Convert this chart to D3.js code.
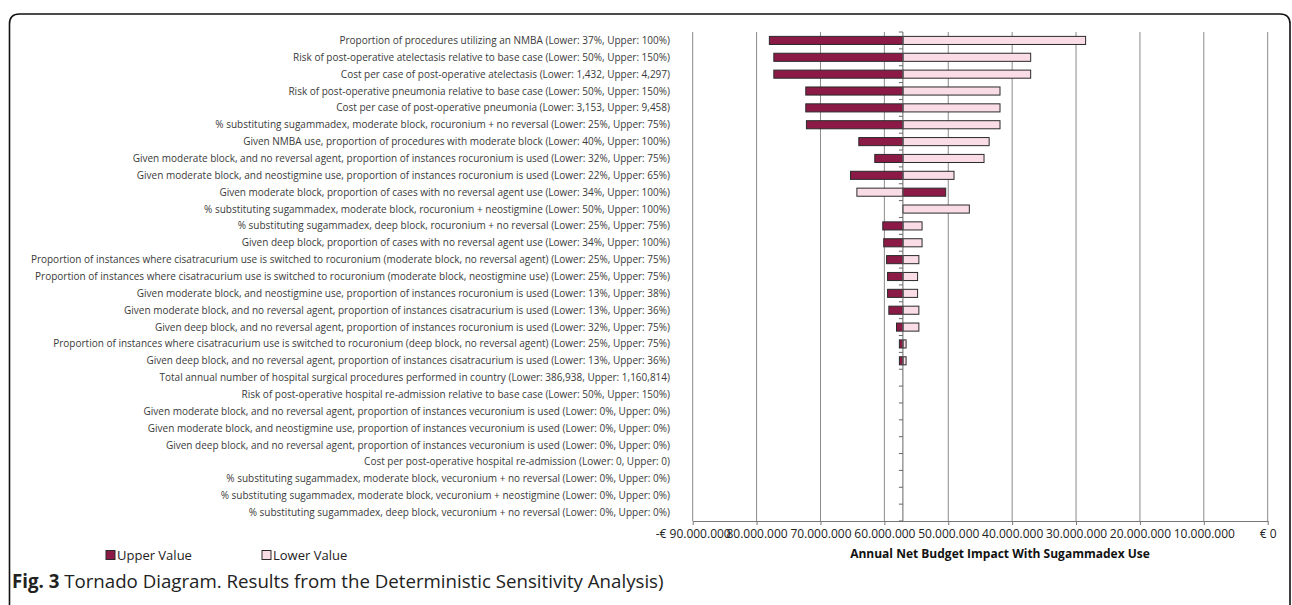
<!DOCTYPE html>
<html>
<head>
<meta charset="utf-8">
<script src="https://cdn.jsdelivr.net/npm/d3@7"></script>
<style>
  body { margin: 0; background: #fff; }
  svg { display: block; }
</style>
</head>
<body>
<div id="chart"></div>
<script>
// parameters, top to bottom
const labels = [
  "Proportion of procedures utilizing an NMBA (Lower: 37%, Upper: 100%)",
  "Risk of post-operative atelectasis relative to base case (Lower: 50%, Upper: 150%)",
  "Cost per case of post-operative atelectasis (Lower: 1,432, Upper: 4,297)",
  "Risk of post-operative pneumonia relative to base case (Lower: 50%, Upper: 150%)",
  "Cost per case of post-operative pneumonia (Lower: 3,153, Upper: 9,458)",
  "% substituting sugammadex, moderate block, rocuronium + no reversal (Lower: 25%, Upper: 75%)",
  "Given NMBA use, proportion of procedures with moderate block (Lower: 40%, Upper: 100%)",
  "Given moderate block, and no reversal agent, proportion of instances rocuronium is used (Lower: 32%, Upper: 75%)",
  "Given moderate block, and neostigmine use, proportion of instances rocuronium is used (Lower: 22%, Upper: 65%)",
  "Given moderate block, proportion of cases with no reversal agent use (Lower: 34%, Upper: 100%)",
  "% substituting sugammadex, moderate block, rocuronium + neostigmine (Lower: 50%, Upper: 100%)",
  "% substituting sugammadex, deep block, rocuronium + no reversal (Lower: 25%, Upper: 75%)",
  "Given deep block, proportion of cases with no reversal agent use (Lower: 34%, Upper: 100%)",
  "Proportion of instances where cisatracurium use is switched to rocuronium (moderate block, no reversal agent) (Lower: 25%, Upper: 75%)",
  "Proportion of instances where cisatracurium use is switched to rocuronium (moderate block, neostigmine use) (Lower: 25%, Upper: 75%)",
  "Given moderate block, and neostigmine use, proportion of instances rocuronium is used (Lower: 13%, Upper: 38%)",
  "Given moderate block, and no reversal agent, proportion of instances cisatracurium is used (Lower: 13%, Upper: 36%)",
  "Given deep block, and no reversal agent, proportion of instances rocuronium is used (Lower: 32%, Upper: 75%)",
  "Proportion of instances where cisatracurium use is switched to rocuronium (deep block, no reversal agent) (Lower: 25%, Upper: 75%)",
  "Given deep block, and no reversal agent, proportion of instances cisatracurium is used (Lower: 13%, Upper: 36%)",
  "Total annual number of hospital surgical procedures performed in country (Lower: 386,938, Upper: 1,160,814)",
  "Risk of post-operative hospital re-admission relative to base case (Lower: 50%, Upper: 150%)",
  "Given moderate block, and no reversal agent, proportion of instances vecuronium is used (Lower: 0%, Upper: 0%)",
  "Given moderate block, and neostigmine use, proportion of instances vecuronium is used (Lower: 0%, Upper: 0%)",
  "Given deep block, and no reversal agent, proportion of instances vecuronium is used (Lower: 0%, Upper: 0%)",
  "Cost per post-operative hospital re-admission (Lower: 0, Upper: 0)",
  "% substituting sugammadex, moderate block, vecuronium + no reversal (Lower: 0%, Upper: 0%)",
  "% substituting sugammadex, moderate block, vecuronium + neostigmine (Lower: 0%, Upper: 0%)",
  "% substituting sugammadex, deep block, vecuronium + no reversal (Lower: 0%, Upper: 0%)"
];

const baseValue = -57100000;

// net budget impact (EUR) at the upper / lower parameter value
const upperValues = [
  -78000000, -77300000, -77300000, -72300000, -72300000, -72200000, -64000000,
  -61500000, -65300000, -50400000, -57100000, -60250000, -60100000, -59650000,
  -59500000, -59500000, -59300000, -58100000, -57650000, -57650000,
  -57100000, -57100000, -57100000, -57100000, -57100000, -57100000, -57100000,
  -57100000, -57100000
];
const lowerValues = [
  -28500000, -37100000, -37100000, -41900000, -41900000, -41900000, -43600000,
  -44400000, -49100000, -64300000, -46700000, -54100000, -54100000, -54600000,
  -54800000, -54800000, -54600000, -54600000, -56600000, -56600000,
  -57100000, -57100000, -57100000, -57100000, -57100000, -57100000, -57100000,
  -57100000, -57100000
];

const tickValues = [-90e6, -80e6, -70e6, -60e6, -50e6, -40e6, -30e6, -20e6, -10e6, 0];
const tickLabels = ["-€ 90.000.000", "80.000.000", "70.000.000", "60.000.000", "50.000.000",
  "40.000.000", "30.000.000", "20.000.000", "10.000.000", "€ 0"];

const width = 1292, height = 605;
const upperColor = "#8c1a46", lowerColor = "#f9dce5";
const plotTop = 32, plotBottom = 521;

const svg = d3.select("#chart").append("svg")
  .attr("width", width)
  .attr("height", height);

// figure frame
svg.append("path")
  .attr("d", "M9.5,605 V24 Q9.5,14 19.5,14 H1280 Q1290,14 1290,24 V605")
  .attr("fill", "none")
  .attr("stroke", "#111")
  .attr("stroke-width", 1.6);

const x = d3.scaleLinear()
  .domain([-90e6, 0])
  .range([692.7, 1267.7]);

const y = d3.scaleBand()
  .domain(d3.range(labels.length))
  .range([plotTop, plotBottom])
  .paddingInner(0.52)
  .paddingOuter(0.26);

const step = y.step();

// vertical gridlines
svg.append("g")
  .selectAll("line")
  .data(tickValues)
  .join("line")
  .attr("x1", d => x(d)).attr("x2", d => x(d))
  .attr("y1", plotTop).attr("y2", plotBottom)
  .attr("stroke", "#8a8a8a")
  .attr("stroke-width", 1);

// bottom axis
const xAxis = d3.axisBottom(x)
  .tickValues(tickValues)
  .tickSize(4)
  .tickSizeOuter(0)
  .tickFormat((d, i) => tickLabels[i]);

const gx = svg.append("g")
  .attr("transform", `translate(0,${plotBottom})`)
  .call(xAxis);
gx.select(".domain").attr("stroke", "#777");
gx.selectAll(".tick line").attr("stroke", "#777");
gx.selectAll(".tick text")
  .attr("dy", "0.85em")
  .attr("fill", "#222")
  .style("font-family", "'Open Sans', sans-serif")
  .style("font-size", "12px");

svg.append("text")
  .attr("x", 1000)
  .attr("y", 558)
  .attr("text-anchor", "middle")
  .attr("fill", "#111")
  .style("font-family", "'Open Sans', sans-serif")
  .style("font-weight", "bold")
  .style("font-size", "12px")
  .text("Annual Net Budget Impact With Sugammadex Use");

// bars
const bars = [];
labels.forEach((l, i) => {
  bars.push({ i, v: lowerValues[i], kind: "lower" });
  bars.push({ i, v: upperValues[i], kind: "upper" });
});

svg.append("g")
  .selectAll("rect")
  .data(bars.filter(b => Math.abs(x(b.v) - x(baseValue)) > 0.5))
  .join("rect")
  .attr("x", d => Math.min(x(d.v), x(baseValue)))
  .attr("width", d => Math.abs(x(d.v) - x(baseValue)))
  .attr("y", d => y(d.i))
  .attr("height", y.bandwidth())
  .attr("fill", d => d.kind === "upper" ? upperColor : lowerColor)
  .attr("stroke", "#2a2a2a")
  .attr("stroke-width", 1);

// category axis at the base case
const baseX = x(baseValue);
svg.append("line")
  .attr("x1", baseX).attr("x2", baseX)
  .attr("y1", plotTop).attr("y2", plotBottom)
  .attr("stroke", "#666");
svg.append("g")
  .selectAll("line")
  .data(d3.range(labels.length + 1))
  .join("line")
  .attr("x1", baseX - 4).attr("x2", baseX)
  .attr("y1", d => plotTop + d * step).attr("y2", d => plotTop + d * step)
  .attr("stroke", "#666");

// parameter labels
const lab = svg.append("g")
  .selectAll("text")
  .data(labels)
  .join("text")
  .attr("x", 670)
  .attr("y", (d, i) => y(i) + y.bandwidth() / 2)
  .attr("dy", "0.35em")
  .attr("text-anchor", "end")
  .attr("fill", "#3a3a3a")
  .style("font-family", "'Open Sans', sans-serif")
  .style("font-size", "10px")
  .text(d => d);

// fit the longest label into the space on the left
const longest = d3.max(lab.nodes(), n => n.getComputedTextLength());
lab.style("font-size", (10 * 640 / longest) + "px");

// legend
const legend = [
  { name: "Upper Value", color: upperColor, x: 106 },
  { name: "Lower Value", color: lowerColor, x: 262 }
];
const lg = svg.append("g").selectAll("g")
  .data(legend)
  .join("g")
  .attr("transform", d => `translate(${d.x},555)`);
lg.append("rect")
  .attr("x", 0).attr("y", -4.5)
  .attr("width", 9).attr("height", 9)
  .attr("fill", d => d.color)
  .attr("stroke", "#2a2a2a");
lg.append("text")
  .attr("x", 11)
  .attr("dy", "0.35em")
  .attr("fill", "#222")
  .style("font-family", "'Open Sans', sans-serif")
  .style("font-size", "13px")
  .text(d => d.name);

// caption
const cap = svg.append("text")
  .attr("x", 12)
  .attr("y", 588)
  .attr("fill", "#222")
  .style("font-family", "'Open Sans', sans-serif")
  .style("font-size", "15px");
cap.append("tspan").style("font-weight", "bold").text("Fig. 3");
cap.append("tspan").text(" Tornado Diagram. Results from the Deterministic Sensitivity Analysis)");
const capLen = cap.node().getComputedTextLength();
cap.style("font-size", (15 * 652 / capLen) + "px");
</script>
</body>
</html>
